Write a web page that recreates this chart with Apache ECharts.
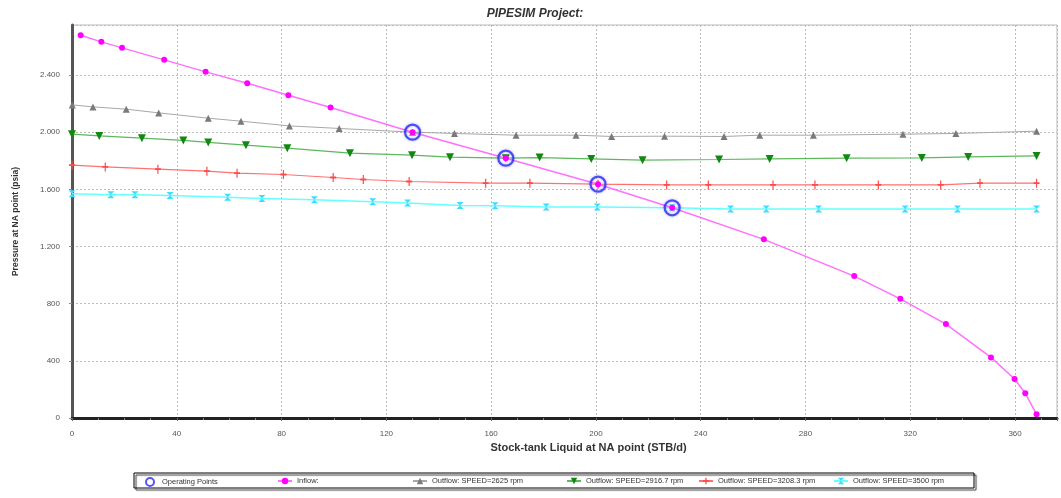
<!DOCTYPE html>
<html>
<head>
<meta charset="utf-8">
<script src="https://cdn.jsdelivr.net/npm/echarts@6/dist/echarts.min.js"></script>
<style>
  html, body { margin: 0; padding: 0; background: #fff; }
  #chart { width: 1061px; height: 498px; }
</style>
</head>
<body>
<div id="chart"></div>
<script>
// operating points (intersections of inflow with each outflow curve)
var opX = [130, 165.6, 200.8, 229.1];
var opY = [2000, 1818, 1636, 1471];

var inflowX = [3.3, 11.2, 19.1, 35.2, 51, 66.9, 82.6, 98.7, 130, 165.6, 200.8, 229.1, 264.1, 298.6, 316.2, 333.6, 350.8, 359.8, 363.9, 368.2];
var inflowY = [2678, 2632, 2590, 2506, 2422, 2343, 2259, 2173, 2000, 1818, 1636, 1471, 1250, 993, 834, 657, 424, 273, 173, 26];

var out2625X = [0.1, 8, 20.7, 33.1, 52, 64.5, 83, 102, 130, 146, 169.5, 192.4, 206, 226.2, 248.9, 262.5, 283, 317.2, 337.4, 368.2];
var out2625Y = [2191, 2177, 2161, 2135, 2098, 2077, 2044, 2026, 2000, 1991, 1979, 1979, 1970, 1972, 1970, 1979, 1979, 1986, 1991, 2007];

var out2917X = [0, 10.4, 26.7, 42.5, 52, 66.4, 82.2, 106.1, 129.8, 144.3, 165.6, 178.5, 198.2, 217.8, 247, 266.3, 295.7, 324.4, 342.1, 368.2];
var out2917Y = [1986, 1974, 1958, 1942, 1928, 1909, 1888, 1853, 1839, 1825, 1818, 1822, 1813, 1804, 1809, 1813, 1818, 1820, 1827, 1834];

var out3208X = [0, 12.7, 32.8, 51.5, 63, 80.7, 99.7, 111.2, 128.7, 157.9, 174.8, 200.8, 227, 242.9, 267.6, 283.6, 307.8, 331.6, 346.6, 368.2];
var out3208Y = [1769, 1757, 1741, 1727, 1713, 1704, 1683, 1669, 1655, 1643, 1643, 1636, 1631, 1631, 1631, 1631, 1631, 1631, 1643, 1643];

var out3500X = [0, 14.8, 24, 37.4, 59.4, 72.5, 92.5, 114.8, 128.1, 148.1, 161.5, 181, 200.5, 229.1, 251.4, 265, 285, 318, 338, 368.2];
var out3500Y = [1569, 1562, 1562, 1557, 1545, 1536, 1527, 1513, 1504, 1487, 1485, 1476, 1476, 1471, 1462, 1462, 1462, 1462, 1462, 1462];

var xTicks = [0, 40, 80, 120, 160, 200, 240, 280, 320, 360];
var yTicks = [0, 400, 800, 1200, 1600, 2000, 2400];

function pairs(xs, ys) {
  return xs.map(function (x, i) { return [x, ys[i]]; });
}

var myChart = echarts.init(document.getElementById('chart'));

var legendBase = {
  top: 472,
  itemWidth: 14,
  itemHeight: 8,
  textStyle: { fontSize: 7.5, color: '#333', fontFamily: 'Liberation Sans' }
};
function legendAt(name, left) {
  return Object.assign({}, legendBase, { left: left, data: [name] });
}

myChart.setOption({
  animation: false,
  backgroundColor: '#fff',
  title: {
    text: 'PIPESIM Project:',
    left: 530,
    textAlign: 'center',
    top: 3,
    textStyle: { fontSize: 12, fontWeight: 'bold', fontStyle: 'italic', color: '#333', fontFamily: 'Liberation Sans' }
  },
  legend: [
    legendAt('Operating Points', 140),
    legendAt('Inflow:', 272),
    legendAt('Outflow: SPEED=2625 rpm', 407),
    legendAt('Outflow: SPEED=2916.7 rpm', 561),
    legendAt('Outflow: SPEED=3208.3 rpm', 693),
    legendAt('Outflow: SPEED=3500 rpm', 828)
  ],
  graphic: [
    {
      type: 'rect',
      shape: { x: 134, y: 473, width: 840, height: 15 },
      style: { fill: 'transparent', stroke: '#000', lineWidth: 1, shadowColor: 'rgba(0,0,0,0.8)', shadowOffsetX: 2, shadowOffsetY: 2, shadowBlur: 1 },
      z: -1
    }
  ],
  grid: {
    left: 72, right: 4, top: 25, bottom: 80,
    show: true, borderColor: '#bbb', borderWidth: 1
  },
  xAxis: {
    type: 'value',
    min: 0, max: 376, interval: 40,
    offset: 4,
    name: 'Stock-tank Liquid at NA point (STB/d)',
    nameLocation: 'middle',
    nameGap: 20,
    nameTextStyle: { fontSize: 11, fontWeight: 'bold', color: '#333', fontFamily: 'Liberation Sans', padding: [0, 0, 0, 48] },
    axisLine: { show: true, lineStyle: { color: '#222', width: 3 } },
    axisTick: { show: true, length: 3, lineStyle: { color: '#666' } },
    minorTick: { show: true, splitNumber: 4, length: 2, lineStyle: { color: '#888' } },
    axisLabel: {
      fontSize: 8, color: '#555', margin: 8, showMaxLabel: false,
      formatter: function (v) { return xTicks.indexOf(v) >= 0 ? String(v) : ''; }
    },
    splitLine: { show: true, lineStyle: { color: '#bbb', type: [2, 2] } }
  },
  yAxis: {
    type: 'value',
    min: 0, max: 2750, interval: 400,
    offset: 8,
    name: 'Pressure at NA point (psia)',
    nameLocation: 'middle',
    nameGap: 44,
    nameTextStyle: { fontSize: 8.5, fontWeight: 'bold', color: '#333', fontFamily: 'Liberation Sans', padding: [0, 0, 0, 0] },
    axisLine: { show: true, lineStyle: { color: '#555', width: 3 } },
    axisTick: { show: true, length: 3, lineStyle: { color: '#888' } },
    axisLabel: {
      fontSize: 8, color: '#555', margin: 4, showMaxLabel: false,
      formatter: function (v) {
        if (yTicks.indexOf(v) < 0) return '';
        return String(v).replace(/\B(?=(\d{3})+(?!\d))/g, '.');
      }
    },
    splitLine: { show: true, lineStyle: { color: '#bbb', type: [2, 2] } }
  },
  series: [
    {
      name: 'Operating Points',
      type: 'scatter',
      data: pairs(opX, opY),
      symbol: 'circle',
      symbolSize: 15,
      itemStyle: { color: 'rgba(0,0,0,0)', borderColor: '#2b2bf0', borderWidth: 2.2, shadowColor: 'rgba(80,80,255,0.6)', shadowBlur: 3 },
      z: 10
    },
    {
      name: 'Inflow:',
      type: 'line',
      data: pairs(inflowX, inflowY),
      symbol: 'circle',
      symbolSize: 6,
      itemStyle: { color: '#ff00ff' },
      lineStyle: { color: '#ff70ff', width: 1.5 },
      z: 6
    },
    {
      name: 'Outflow: SPEED=2625 rpm',
      type: 'line',
      data: pairs(out2625X, out2625Y),
      symbol: 'triangle',
      symbolSize: 7,
      itemStyle: { color: '#7a7a7a' },
      lineStyle: { color: '#a8a8a8', width: 1 }
    },
    {
      name: 'Outflow: SPEED=2916.7 rpm',
      type: 'line',
      data: pairs(out2917X, out2917Y),
      symbol: 'triangle',
      symbolRotate: 180,
      symbolSize: 8,
      itemStyle: { color: '#118811' },
      lineStyle: { color: '#5cb85c', width: 1.2 }
    },
    {
      name: 'Outflow: SPEED=3208.3 rpm',
      type: 'line',
      data: pairs(out3208X, out3208Y),
      symbol: 'path://M4,0 L6,0 L6,4 L10,4 L10,6 L6,6 L6,10 L4,10 L4,6 L0,6 L0,4 L4,4 Z',
      symbolSize: [6, 9],
      itemStyle: { color: '#ff4a4a' },
      lineStyle: { color: '#ff7070', width: 1.2 }
    },
    {
      name: 'Outflow: SPEED=3500 rpm',
      type: 'line',
      data: pairs(out3500X, out3500Y),
      symbol: 'path://M0,0 L5,5 L0,10 Z M10,0 L5,5 L10,10 Z',
      symbolRotate: 90,
      symbolSize: [7, 7],
      itemStyle: { color: '#3fdcff' },
      lineStyle: { color: '#66ffff', width: 1.5 }
    }
  ]
});
</script>
</body>
</html>
